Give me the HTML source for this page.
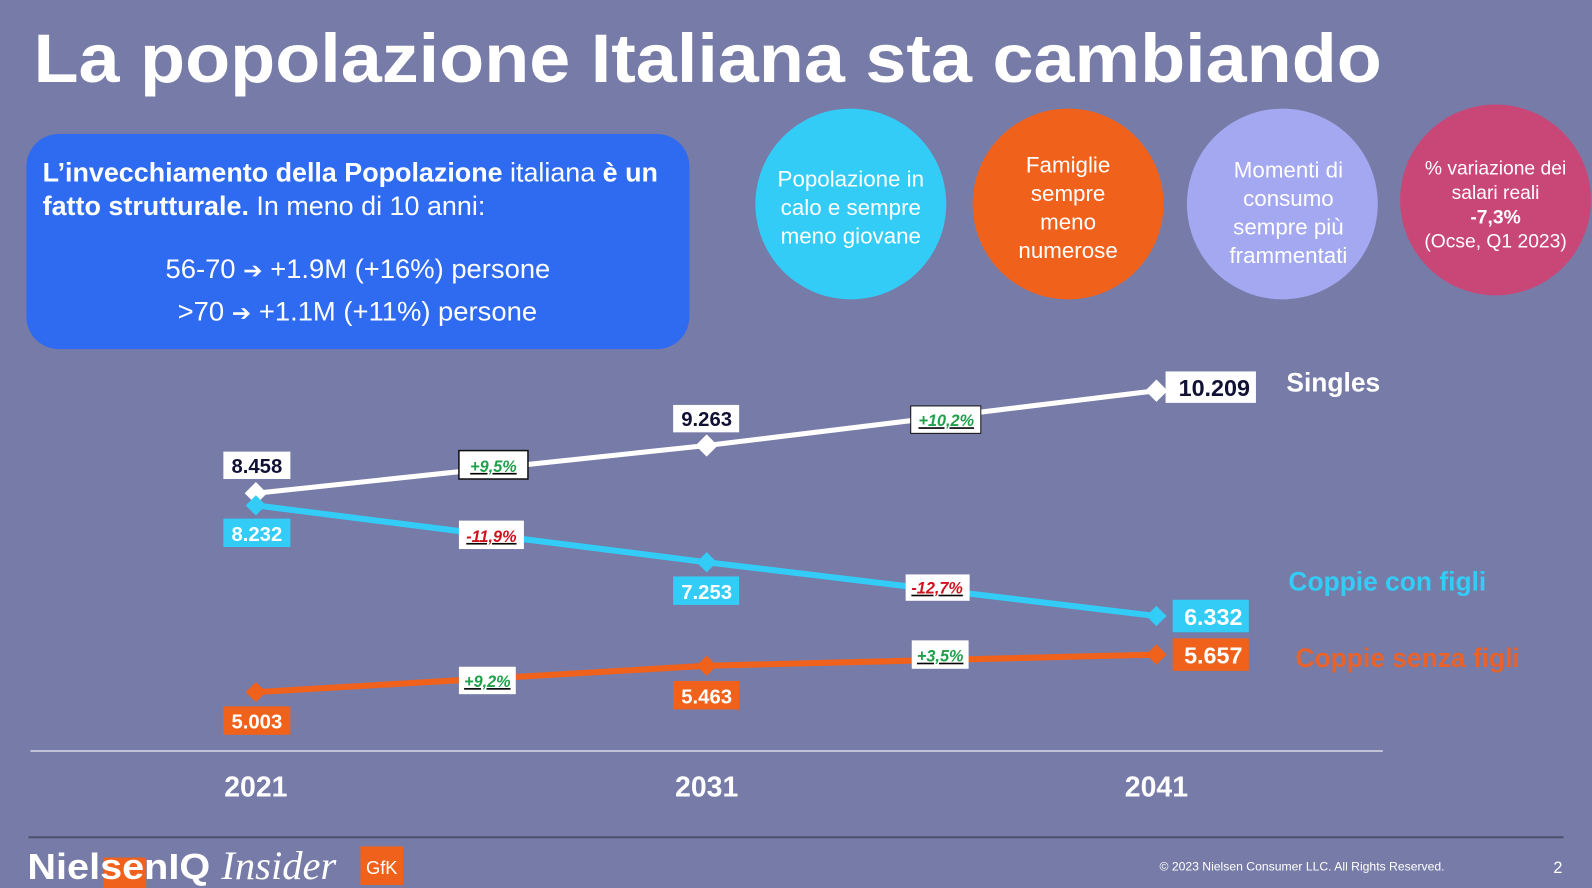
<!DOCTYPE html>
<html><head><meta charset="utf-8"><style>
html,body{margin:0;padding:0;background:#777BA7;}
svg{display:block;font-family:"Liberation Sans",Arial,sans-serif;}
</style></head><body>
<svg width="1592" height="888" viewBox="0 0 1568 875" preserveAspectRatio="none" xmlns="http://www.w3.org/2000/svg">
<rect width="1568" height="875" fill="#777BA7"/>
<text x="33" y="81" font-size="68" font-weight="bold" fill="#fff" textLength="1328" lengthAdjust="spacingAndGlyphs">La popolazione Italiana sta cambiando</text>
<rect x="26" y="132" width="653" height="212" rx="32" fill="#2F6BF0"/>
<g fill="#fff" font-family="'Liberation Sans Narrow','Liberation Sans',sans-serif" font-size="26">
<text x="42" y="179" textLength="606" lengthAdjust="spacingAndGlyphs"><tspan font-weight="bold">L’invecchiamento della Popolazione</tspan> italiana <tspan font-weight="bold">è un</tspan></text>
<text x="42" y="212" textLength="436" lengthAdjust="spacingAndGlyphs"><tspan font-weight="bold">fatto strutturale.</tspan> In meno di 10 anni:</text>
<text x="163" y="274" textLength="379" lengthAdjust="spacingAndGlyphs">56-70 <tspan font-family="'DejaVu Sans',sans-serif" font-size="22">➔</tspan> +1.9M (+16%) persone</text>
<text x="175" y="316" textLength="354" lengthAdjust="spacingAndGlyphs">&gt;70 <tspan font-family="'DejaVu Sans',sans-serif" font-size="22">➔</tspan> +1.1M (+11%) persone</text>
</g>
<circle cx="838" cy="201" r="94" fill="#33CCF7"/>
<circle cx="1052" cy="201" r="94" fill="#F0621C"/>
<circle cx="1263" cy="201" r="94" fill="#A3A8F0"/>
<circle cx="1473" cy="197" r="94" fill="#C94777"/>
<g fill="#fff" font-size="22" text-anchor="middle">
<text x="838" y="184">Popolazione in</text><text x="838" y="212">calo e sempre</text><text x="838" y="240">meno giovane</text>
<text x="1052" y="170">Famiglie</text><text x="1052" y="198">sempre</text><text x="1052" y="226">meno</text><text x="1052" y="254">numerose</text>
<text x="1269" y="175">Momenti di</text><text x="1269" y="203">consumo</text><text x="1269" y="231">sempre più</text><text x="1269" y="259">frammentati</text>
</g>
<g fill="#fff" font-size="19" text-anchor="middle">
<text x="1473" y="172">% variazione dei</text><text x="1473" y="196">salari reali</text><text x="1473" y="220" font-weight="bold">-7,3%</text><text x="1473" y="244">(Ocse, Q1 2023)</text>
</g>
<line x1="30" y1="740" x2="1362" y2="740" stroke="#D8D9E8" stroke-width="1.5"/>
<g fill="#fff" font-size="28" font-weight="bold" text-anchor="middle">
<text x="252" y="785">2021</text><text x="696" y="785">2031</text><text x="1139" y="785">2041</text>
</g>
<polyline points="252,486 696,439 1139,385" fill="none" stroke="#fff" stroke-width="5"/>
<polyline points="252,498 696,554 1139,607" fill="none" stroke="#33CCF7" stroke-width="6"/>
<polyline points="252,682 696,656 1139,645" fill="none" stroke="#F0621C" stroke-width="6"/>
<g fill="#fff">
<path d="M252,475l11,11l-11,11l-11,-11z"/><path d="M696,428l11,11l-11,11l-11,-11z"/><path d="M1139,374l11,11l-11,11l-11,-11z"/>
</g>
<g fill="#33CCF7">
<path d="M252,488l10,10l-10,10l-10,-10z"/><path d="M696,544l10,10l-10,10l-10,-10z"/><path d="M1139,597l10,10l-10,10l-10,-10z"/>
</g>
<g fill="#F0621C">
<path d="M252,672l10,10l-10,10l-10,-10z"/><path d="M696,646l10,10l-10,10l-10,-10z"/><path d="M1139,635l10,10l-10,10l-10,-10z"/>
</g>
<g font-size="20" font-weight="bold" text-anchor="middle">
<rect x="220" y="445" width="66" height="27" fill="#fff"/><text x="253" y="466" fill="#111133">8.458</text>
<rect x="663" y="399" width="65" height="27" fill="#fff"/><text x="696" y="420" fill="#111133">9.263</text>
<rect x="1148" y="366" width="89" height="31" fill="#fff"/><text x="1196" y="390" fill="#111133" font-size="23">10.209</text>
<rect x="220" y="511" width="66" height="28" fill="#33CCF7"/><text x="253" y="533" fill="#fff">8.232</text>
<rect x="663" y="568" width="65" height="28" fill="#33CCF7"/><text x="696" y="590" fill="#fff">7.253</text>
<rect x="1155" y="591" width="75" height="32" fill="#33CCF7"/><text x="1195" y="616" fill="#fff" font-size="23">6.332</text>
<rect x="220" y="696" width="66" height="28" fill="#F0621C"/><text x="253" y="718" fill="#fff">5.003</text>
<rect x="663" y="671" width="65" height="28" fill="#F0621C"/><text x="696" y="693" fill="#fff">5.463</text>
<rect x="1155" y="629" width="75" height="32" fill="#F0621C"/><text x="1195" y="654" fill="#fff" font-size="23">5.657</text>
</g>
<g font-size="16" font-weight="bold" font-style="italic" text-anchor="middle" text-decoration="underline">
<rect x="452" y="444" width="68" height="28" fill="#fff" stroke="#111" stroke-width="1.5"/><text x="486" y="465" fill="#1FA04A">+9,5%</text>
<rect x="452" y="513" width="64" height="28" fill="#fff"/><text x="484" y="534" fill="#D0121E">-11,9%</text>
<rect x="897" y="400" width="69" height="27" fill="#fff" stroke="#111" stroke-width="1"/><text x="932" y="420" fill="#1FA04A">+10,2%</text>
<rect x="892" y="566" width="63" height="26" fill="#fff"/><text x="923" y="585" fill="#D0121E">-12,7%</text>
<rect x="452" y="657" width="56" height="27" fill="#fff"/><text x="480" y="677" fill="#1FA04A">+9,2%</text>
<rect x="898" y="631" width="56" height="28" fill="#fff"/><text x="926" y="652" fill="#1FA04A">+3,5%</text>
</g>
<g font-size="26" font-weight="bold">
<text x="1267" y="386" fill="#fff">Singles</text>
<text x="1269" y="582" fill="#33CCF7">Coppie con figli</text>
<text x="1276" y="657" fill="#E8622A">Coppie senza figli</text>
</g>
<line x1="28" y1="825" x2="1540" y2="825" stroke="#4E5070" stroke-width="2"/>
<rect x="102" y="845" width="42" height="30" fill="#F0621C"/>
<text x="27" y="866" font-size="36" font-weight="bold" fill="#fff" textLength="180" lengthAdjust="spacingAndGlyphs">NielsenIQ</text>
<text x="218" y="866" font-size="40" font-style="italic" fill="#fff" font-family="'Liberation Serif',serif">Insider</text>
<rect x="355" y="834" width="42" height="38" fill="#F0621C"/>
<text x="376" y="861" font-size="18" fill="#fff" text-anchor="middle">GfK</text>
<text x="1142" y="858" font-size="12" fill="#fff">© 2023 Nielsen Consumer LLC. All Rights Reserved.</text>
<text x="1530" y="860" font-size="16" fill="#fff">2</text>
</svg>
</body></html>
